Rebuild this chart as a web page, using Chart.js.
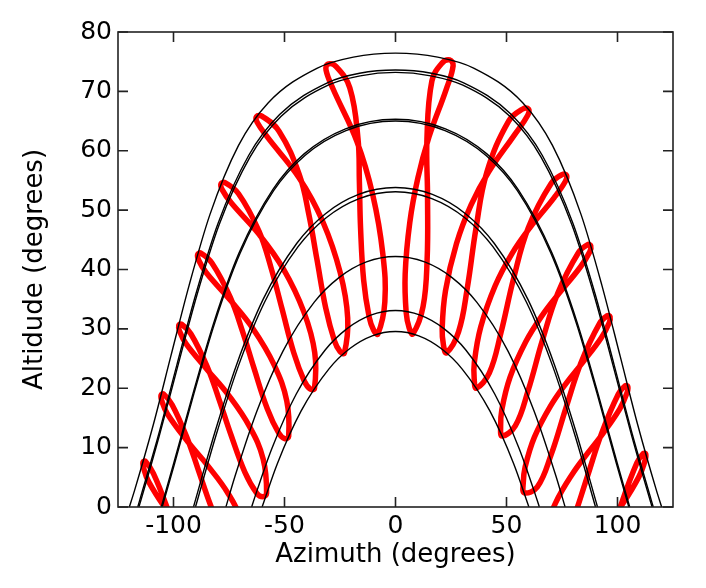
<!DOCTYPE html>
<html>
<head>
<meta charset="utf-8">
<title>Analemmas</title>
<script src="https://cdn.jsdelivr.net/npm/chart.js"></script>
<style>
  html, body { margin: 0; padding: 0; background: #fff; }
  #wrap { width: 706px; height: 588px; }
</style>
</head>
<body>
<div id="wrap"><canvas id="chart" width="706" height="588"></canvas></div>
<script>
// Fechas de cada lazo (mismo orden en todas las horas)
const loopDates = ["Jan 5", "Jan 20", "Feb 12", "Mar 8", "Mar 28", "Apr 16", "May 14", "Jun 6",
  "Jun 21", "Jul 6", "Jul 26", "Aug 28", "Sep 22", "Oct 20", "Nov 15", "Dec 21"];

// ===== Analemas: [azimut, altitud] por fecha, una lista por hora =====
const hour05 = [[-76.57,-20.47],[-79.50,-20.30],[-85.58,-17.37],[-92.43,-11.56],[-97.87,-5.71],[-102.74,-0.25],[-109.07,5.67],[-112.63,7.68],[-113.71,7.59],[-113.47,6.57],[-111.17,4.23],[-102.64,-0.76],[-93.74,-4.95],[-84.24,-9.54],[-77.44,-14.16],[-74.92,-19.61]];
const hour06 = [[-68.46,-9.05],[-71.24,-8.71],[-76.91,-5.54],[-83.43,0.42],[-88.81,6.23],[-93.86,11.60],[-100.63,17.23],[-104.48,19.03],[-105.60,18.85],[-105.28,17.87],[-102.73,15.68],[-93.73,11.08],[-84.68,7.01],[-75.34,2.24],[-68.92,-2.69],[-66.83,-8.31]];
const hour07 = [[-59.74,1.73],[-62.46,2.31],[-67.87,5.88],[-74.13,12.17],[-79.50,18.14],[-84.75,23.56],[-92.14,29.14],[-96.44,30.80],[-97.65,30.58],[-97.27,29.61],[-94.39,27.52],[-84.62,23.05],[-75.14,18.81],[-65.73,13.53],[-59.63,8.10],[-58.07,2.32]];
const hour08 = [[-49.88,11.51],[-52.58,12.43],[-57.75,16.54],[-63.71,23.34],[-68.99,29.66],[-74.46,35.33],[-82.70,41.08],[-87.70,42.76],[-89.12,42.53],[-88.65,41.56],[-85.32,39.49],[-74.36,34.81],[-64.19,30.03],[-54.67,23.94],[-48.97,17.84],[-48.11,11.89]];
const hour09 = [[-38.41,19.87],[-41.05,21.18],[-45.83,25.97],[-51.18,33.46],[-56.07,40.30],[-61.51,46.45],[-70.70,52.75],[-76.80,54.62],[-78.61,54.42],[-78.09,53.46],[-74.11,51.28],[-61.45,45.92],[-50.59,40.14],[-41.29,32.86],[-36.38,25.99],[-36.50,19.97]];
const hour10 = [[-25.00,26.19],[-27.46,27.94],[-31.42,33.49],[-35.40,41.71],[-38.97,49.16],[-43.33,55.97],[-52.46,63.30],[-60.01,65.79],[-62.64,65.74],[-62.26,64.75],[-57.60,62.24],[-43.46,55.46],[-32.82,48.13],[-24.87,39.43],[-21.53,31.81],[-23.03,25.92]];
const hour11 = [[-9.85,29.79],[-11.87,31.99],[-14.34,38.18],[-15.73,46.93],[-16.27,54.77],[-16.90,62.07],[-20.58,70.59],[-26.84,74.21],[-30.48,74.60],[-31.30,73.60],[-28.20,70.48],[-17.42,61.61],[-10.24,52.57],[-5.71,42.63],[-4.80,34.55],[-7.93,29.13]];
const hour12 = [[6.15,30.17],[4.81,32.73],[4.36,39.24],[6.43,47.91],[10.09,55.43],[15.04,62.27],[22.84,70.35],[25.96,74.34],[24.45,75.30],[20.95,74.76],[16.40,71.77],[14.16,61.95],[14.44,52.13],[14.25,41.73],[12.42,33.75],[7.83,29.15]];
const hour13 = [[21.60,27.29],[21.02,30.04],[22.52,36.43],[27.48,44.37],[34.05,50.88],[41.99,56.45],[53.76,62.76],[59.57,65.99],[59.88,67.04],[57.32,67.03],[50.90,64.96],[41.10,56.32],[36.26,46.95],[32.37,36.95],[28.43,29.55],[22.93,25.96]];
const hour14 = [[35.45,21.55],[35.51,24.34],[38.39,30.31],[44.90,37.26],[52.41,42.64],[60.59,47.07],[71.48,52.11],[76.54,54.86],[77.05,55.88],[75.25,56.02],[70.17,54.52],[59.83,47.04],[53.21,38.50],[47.43,29.24],[42.28,22.59],[36.42,20.01]];
const hour15 = [[47.36,13.61],[47.88,16.35],[51.57,21.82],[58.67,27.82],[66.17,32.32],[73.78,36.03],[83.28,40.42],[87.52,43.00],[87.96,44.01],[86.57,44.20],[82.44,42.87],[73.14,36.03],[66.23,28.15],[59.71,19.58],[53.95,13.66],[48.03,11.95]];
const hour16 = [[57.56,4.11],[58.40,6.75],[62.57,11.76],[69.87,17.03],[77.12,20.96],[84.17,24.28],[92.64,28.46],[96.28,31.04],[96.65,32.06],[95.45,32.23],[91.93,30.92],[83.60,24.33],[76.86,16.79],[70.03,8.73],[63.91,3.39],[58.01,2.38]];
const hour17 = [[66.50,-6.47],[67.58,-3.93],[72.11,0.70],[79.53,5.48],[86.63,9.11],[93.32,12.32],[101.09,16.57],[104.32,19.27],[104.62,20.29],[103.52,20.43],[100.39,19.02],[92.79,12.36],[86.26,4.95],[79.24,-2.82],[72.80,-7.75],[66.77,-8.23]];
const hour18 = [[74.71,-17.77],[76.00,-15.30],[80.90,-10.95],[88.57,-6.44],[95.67,-2.85],[102.20,0.45],[109.55,5.03],[112.47,7.90],[112.67,8.95],[111.63,9.01],[108.73,7.43],[101.68,0.48],[95.32,-7.01],[88.08,-14.72],[81.20,-19.42],[74.86,-19.53]];

// ===== Recorridos diarios del sol (día 21 de cada mes) =====
const pathJun21 = [[-119.9,0],[-117.5,2.85],[-109.1,13.85],[-101.2,25.4],[-93.0,37.29],[-83.6,49.24],[-70.7,60.9],[-57.3,68.09],[-35.2,73.93],[-19.0,75.77],[0,76.44],[19.0,75.77],[35.2,73.93],[57.3,68.09],[70.7,60.9],[83.6,49.24],[93.0,37.29],[101.2,25.4],[109.1,13.85],[117.5,2.85],[119.9,0]];
const pathJul21 = [[-116.1,0],[-115.3,1.04],[-106.7,12.22],[-98.5,23.9],[-89.95,35.84],[-79.95,47.76],[-66.15,59.2],[-52.2,66.1],[-30.7,71.45],[-16.2,73.05],[0,73.6],[16.2,73.05],[30.7,71.45],[52.2,66.1],[66.15,59.2],[79.95,47.76],[89.95,35.84],[98.5,23.9],[106.7,12.22],[115.3,1.04],[116.1,0]];
const pathMay21 = [[-115.6,0],[-114.95,0.79],[-106.4,11.99],[-98.1,23.69],[-89.5,35.63],[-79.45,47.54],[-65.5,58.97],[-51.5,65.8],[-30.1,71.08],[-15.9,72.62],[0,73.2],[15.9,72.62],[30.1,71.08],[51.5,65.8],[65.5,58.97],[79.45,47.54],[89.5,35.63],[98.1,23.69],[106.4,11.99],[114.95,0.79],[115.6,0]];
const pathAug21 = [[-105.5,0],[-99.9,7.37],[-91.1,19.27],[-81.7,31.22],[-70.4,42.84],[-55.2,53.5],[-41.15,59.47],[-22.5,63.7],[0,65.3],[22.5,63.7],[41.15,59.47],[55.2,53.5],[70.4,42.84],[81.7,31.22],[91.1,19.27],[99.9,7.37],[105.5,0]];
const pathApr21 = [[-105.1,0],[-99.6,7.19],[-90.8,19.1],[-81.4,31.04],[-70.1,42.64],[-54.9,53.27],[-40.8,59.21],[-22.3,63.4],[0,65.0],[22.3,63.4],[40.8,59.21],[54.9,53.27],[70.1,42.64],[81.4,31.04],[90.8,19.1],[99.6,7.19],[105.1,0]];
const pathSep21 = [[-91.0,0],[-81.5,12.42],[-71.5,24.06],[-59.64,34.96],[-44.44,44.42],[-31.68,49.36],[-16.6,52.64],[0,53.8],[16.6,52.64],[31.68,49.36],[44.44,44.42],[59.64,34.96],[71.5,24.06],[81.5,12.42],[91.0,0]];
const pathMar21 = [[-90.1,0],[-80.9,11.99],[-70.92,23.6],[-59.05,34.45],[-43.89,43.84],[-31.23,48.72],[-16.36,51.95],[0,53.1],[16.36,51.95],[31.23,48.72],[43.89,43.84],[59.05,34.45],[70.92,23.6],[80.9,11.99],[90.1,0]];
const pathFeb21 = [[-76.4,0],[-72.3,5.18],[-62.37,16.23],[-50.74,26.22],[-36.59,34.51],[-25.47,38.64],[-13.1,41.28],[0,42.2],[13.1,41.28],[25.47,38.64],[36.59,34.51],[50.74,26.22],[62.37,16.23],[72.3,5.18],[76.4,0]];
const pathJan21 = [[-64.8,0],[-62.2,2.97],[-55.73,9.82],[-44.7,19.03],[-31.68,26.45],[-21.81,30.05],[-11.14,32.32],[0,33.1],[11.14,32.32],[21.81,30.05],[31.68,26.45],[44.7,19.03],[55.73,9.82],[62.2,2.97],[64.8,0]];
const pathDec21 = [[-60.1,0],[-53.23,7.3],[-42.5,16.18],[-29.96,23.27],[-20.56,26.69],[-10.48,28.83],[0,29.56],[10.48,28.83],[20.56,26.69],[29.96,23.27],[42.5,16.18],[53.23,7.3],[60.1,0]];

// ===== Ejes =====
const xTicks = [-100, -50, 0, 50, 100];
const yTicks = [0, 10, 20, 30, 40, 50, 60, 70, 80];

const FONT = "'DejaVu Sans', 'Liberation Sans', Arial, sans-serif";
const RED = "#ff0000";
const CLEAR = "rgba(0,0,0,0)";

const loops = [hour05, hour06, hour07, hour08, hour09, hour10, hour11,
  hour12, hour13, hour14, hour15, hour16, hour17, hour18];
const paths = [pathJun21, pathJul21, pathMay21, pathAug21, pathApr21,
  pathSep21, pathMar21, pathFeb21, pathJan21, pathDec21];

// lazo cerrado: se repiten puntos en los extremos y esos tramos se ocultan
function loopDataset(pts) {
  const seq = [pts[pts.length - 1]].concat(pts, [pts[0], pts[1]]);
  const last = seq.length - 2;
  return {
    data: seq.map(([x, y]) => ({ x, y })),
    showLine: true,
    borderColor: RED,
    borderWidth: 5.5,
    borderCapStyle: "round",
    borderJoinStyle: "round",
    tension: 0.4,
    pointRadius: 0,
    clip: 0,
    order: 1,
    segment: {
      borderColor: (ctx) => (ctx.p0DataIndex === 0 || ctx.p0DataIndex === last ? CLEAR : RED),
    },
  };
}

function pathDataset(pts) {
  return {
    data: pts.map(([x, y]) => ({ x, y })),
    showLine: true,
    borderColor: "#000",
    borderWidth: 1.4,
    cubicInterpolationMode: "monotone",
    pointRadius: 0,
    clip: 0,
    order: 0,
  };
}

// marco y marcas hacia adentro en los cuatro lados
const frame = {
  id: "frame",
  afterDatasetsDraw(chart) {
    const { ctx, chartArea: a, scales: { x, y } } = chart;
    ctx.save();
    ctx.strokeStyle = "#222";
    ctx.lineWidth = 1.6;
    ctx.beginPath();
    xTicks.forEach((v) => {
      const px = x.getPixelForValue(v);
      ctx.moveTo(px, a.bottom);
      ctx.lineTo(px, a.bottom - 10);
      ctx.moveTo(px, a.top);
      ctx.lineTo(px, a.top + 10);
    });
    yTicks.forEach((v) => {
      const py = y.getPixelForValue(v);
      ctx.moveTo(a.left, py);
      ctx.lineTo(a.left + 10, py);
      ctx.moveTo(a.right, py);
      ctx.lineTo(a.right - 10, py);
    });
    ctx.stroke();
    ctx.strokeRect(a.left, a.top, a.right - a.left, a.bottom - a.top);
    ctx.restore();
  },
};

new Chart(document.getElementById("chart").getContext("2d"), {
  type: "scatter",
  data: {
    datasets: paths.map(pathDataset).concat(loops.map(loopDataset)),
  },
  plugins: [frame],
  options: {
    responsive: false,
    animation: false,
    devicePixelRatio: 1,
    events: [],
    layout: { padding: { top: 32, right: 33, bottom: 0, left: 0 } },
    elements: { line: { capBezierPoints: false }, point: { radius: 0, hoverRadius: 0 } },
    plugins: {
      legend: { display: false },
      tooltip: { enabled: false },
    },
    scales: {
      x: {
        type: "linear",
        min: -125,
        max: 125,
        afterBuildTicks: (s) => { s.ticks = xTicks.map((v) => ({ value: v })); },
        afterFit: (s) => { s.height = 81; },
        grid: { display: false, drawTicks: false },
        border: { display: false },
        ticks: { color: "#000", font: { family: FONT, size: 25 }, padding: 4, maxRotation: 0, autoSkip: false },
        title: {
          display: true,
          text: "Azimuth (degrees)",
          color: "#000",
          font: { family: FONT, size: 26 },
          padding: { top: 0, bottom: 17 },
        },
      },
      y: {
        type: "linear",
        min: 0,
        max: 80,
        afterBuildTicks: (s) => { s.ticks = yTicks.map((v) => ({ value: v })); },
        afterFit: (s) => { s.width = 118; },
        grid: { display: false, drawTicks: false },
        border: { display: false },
        ticks: { color: "#000", font: { family: FONT, size: 25 }, padding: 6 },
        title: {
          display: true,
          text: "Altidude (degrees)",
          color: "#000",
          font: { family: FONT, size: 26 },
          padding: { top: 20, bottom: 0 },
        },
      },
    },
  },
});
</script>
</body>
</html>
